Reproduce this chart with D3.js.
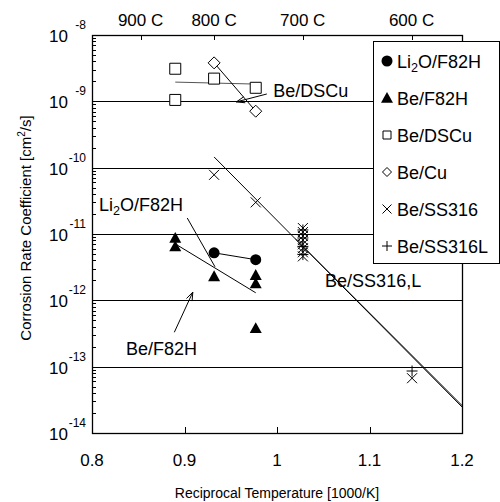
<!DOCTYPE html>
<html>
<head>
<meta charset="utf-8">
<script src="https://cdn.jsdelivr.net/npm/d3@7"></script>
<style>
  body { margin: 0; background: #fff; }
  svg { display: block; font-family: "Liberation Sans", Arial, sans-serif; }
</style>
</head>
<body>
<svg id="chart" width="500" height="502"></svg>
<script>
// ---- data (reciprocal temperature 1000/K, corrosion rate cm2/s) ----
const li2oX = [0.932, 0.977];
const li2oY = [5.2e-12, 4.1e-12];

const beF82hX = [0.890, 0.890, 0.932, 0.977, 0.977, 0.977];
const beF82hY = [8.7e-12, 6.5e-12, 2.3e-12, 2.4e-12, 1.8e-12, 3.8e-13];

const beDscuX = [0.890, 0.890, 0.932, 0.977];
const beDscuY = [3.1e-9, 1.05e-9, 2.2e-9, 1.6e-9];

const beCuX = [0.932, 0.977];
const beCuY = [3.8e-9, 7.1e-10];

const ss316X = [0.932, 0.977, 1.028, 1.028, 1.028, 1.028, 1.028, 1.028, 1.028, 1.028, 1.146];
const ss316Y = [7.8e-11, 3.0e-11, 1.23e-11, 1.07e-11, 9.3e-12, 8.1e-12, 7.0e-12, 6.1e-12, 5.3e-12, 4.6e-12, 6.7e-14];

const ss316LX = [1.028, 1.028, 1.028, 1.028, 1.146];
const ss316LY = [1.15e-11, 8.7e-12, 6.5e-12, 4.9e-12, 8.6e-14];

// fitted lines
const fitF82hX = [0.890, 0.977];
const fitF82hY = [7.1e-12, 1.3e-12];
const fitDscuX = [0.890, 0.977];
const fitDscuY = [1.95e-9, 1.82e-9];
const fitSs316X = [0.932, 1.2];
const fitSs316Y = [1.45e-10, 2.47e-14];
const fitSs316LX = [1.02, 1.2];
const fitSs316LY = [8.4e-12, 2.6e-14];

// axes
const xTicks = [0.8, 0.9, 1.0, 1.1, 1.2];
const xTickLabels = ["0.8", "0.9", "1", "1.1", "1.2"];
const yExponents = [-8, -9, -10, -11, -12, -13, -14];
const topTempsC = [900, 800, 700, 600];

// legend
const legendNames = ["Li2O/F82H", "Be/F82H", "Be/DSCu", "Be/Cu", "Be/SS316", "Be/SS316L"];
const legendSymbols = ["circle", "triangle", "square", "diamond", "times", "plus"];

// ---- layout ----
const W = 500, H = 502;
const margin = { left: 92, top: 35, right: 38, bottom: 69 };

const svg = d3.select("#chart");

const x = d3.scaleLinear().domain([0.8, 1.2]).range([margin.left, W - margin.right]);
const y = d3.scaleLog().domain([1e-14, 1e-8]).range([H - margin.bottom, margin.top]);

// marker path generator
function markerPath(type, r) {
  switch (type) {
    case "triangle": return `M0,${-r}L${r},${r * 0.8}L${-r},${r * 0.8}Z`;
    case "square": return `M${-r},${-r}H${r}V${r}H${-r}Z`;
    case "diamond": return `M0,${-r}L${r},0L0,${r}L${-r},0Z`;
    case "times": return `M${-r},${-r}L${r},${r}M${-r},${r}L${r},${-r}`;
    case "plus": return `M${-r},0H${r}M0,${-r}V${r}`;
    default: return d3.symbol(d3.symbolCircle, Math.PI * r * r)();
  }
}

function markerStyle(sel, type) {
  if (type === "circle" || type === "triangle") {
    sel.attr("fill", "#000").attr("stroke", "none");
  } else if (type === "square" || type === "diamond") {
    sel.attr("fill", "#fff").attr("stroke", "#000").attr("stroke-width", 1);
  } else {
    sel.attr("fill", "none").attr("stroke", "#000").attr("stroke-width", 1);
  }
}

// ---- gridlines at each decade ----
svg.append("g")
  .selectAll("line")
  .data(yExponents.slice(1, -1))
  .enter().append("line")
  .attr("x1", x(0.8)).attr("x2", x(1.2))
  .attr("y1", d => Math.round(y(Math.pow(10, d))) + 0.5)
  .attr("y2", d => Math.round(y(Math.pow(10, d))) + 0.5)
  .attr("stroke", "#000").attr("stroke-width", 1);

// ---- fitted lines ----
const line = d3.line().x(d => x(d[0])).y(d => y(d[1]));
const fits = [
  { xs: fitF82hX, ys: fitF82hY, color: "#000" },
  { xs: fitDscuX, ys: fitDscuY, color: "#555" },
  { xs: fitSs316X, ys: fitSs316Y, color: "#000" },
  { xs: fitSs316LX, ys: fitSs316LY, color: "#000" },
  { xs: li2oX, ys: li2oY, color: "#000" },
  { xs: beCuX, ys: beCuY, color: "#000" }
];
svg.append("g")
  .selectAll("path")
  .data(fits)
  .enter().append("path")
  .attr("d", f => line(d3.zip(f.xs, f.ys)))
  .attr("fill", "none")
  .attr("stroke", f => f.color)
  .attr("stroke-width", 1);

// ---- data markers ----
const series = [
  { xs: li2oX, ys: li2oY, type: "circle", r: 5.5 },
  { xs: beF82hX, ys: beF82hY, type: "triangle", r: 6 },
  { xs: beDscuX, ys: beDscuY, type: "square", r: 5.5 },
  { xs: beCuX, ys: beCuY, type: "diamond", r: 6 },
  { xs: ss316X, ys: ss316Y, type: "times", r: 5 },
  { xs: ss316LX, ys: ss316LY, type: "plus", r: 5.5 }
];
series.forEach(s => {
  svg.append("g")
    .selectAll("path")
    .data(d3.zip(s.xs, s.ys))
    .enter().append("path")
    .attr("transform", d => `translate(${x(d[0])},${y(d[1])})`)
    .attr("d", markerPath(s.type, s.r))
    .call(markerStyle, s.type);
});

// ---- annotations (positions in data units) ----
const annoLabels = [
  { text: "Be/DSCu", x: 0.996, y: 1.16e-9 },
  { text: "Li2O/F82H", x: 0.8076, y: 2.2e-11 },
  { text: "Be/F82H", x: 0.8368, y: 1.5e-13 },
  { text: "Be/SS316,L", x: 1.052, y: 1.59e-12 }
];
const annoArrows = [
  { from: [0.989, 1.29e-9], to: [0.956, 9.8e-10], head: true },
  { from: [0.903, 1.74e-11], to: [0.933, 3.2e-12], head: false },
  { from: [0.889, 3.3e-13], to: [0.909, 1.33e-12], head: true }
];

// text with a subscript "2" for Li2O
function richText(sel, text, size) {
  if (text.startsWith("Li2O")) {
    sel.append("tspan").text("Li");
    sel.append("tspan").text("2").attr("font-size", size * 0.7).attr("dy", 4);
    sel.append("tspan").text(text.slice(3)).attr("dy", -4);
  } else {
    sel.text(text);
  }
}

annoLabels.forEach(a => {
  svg.append("text")
    .attr("x", x(a.x)).attr("y", y(a.y))
    .attr("font-size", 18)
    .call(richText, a.text, 18);
});

annoArrows.forEach(a => {
  const x1 = x(a.from[0]), y1 = y(a.from[1]);
  const x2 = x(a.to[0]), y2 = y(a.to[1]);
  svg.append("line")
    .attr("x1", x1).attr("y1", y1).attr("x2", x2).attr("y2", y2)
    .attr("stroke", "#000").attr("stroke-width", 1);
  if (a.head) {
    const ang = Math.atan2(y1 - y2, x1 - x2);
    const len = 9, spread = 0.35;
    const p1 = [x2 + len * Math.cos(ang + spread), y2 + len * Math.sin(ang + spread)];
    const p2 = [x2 + len * Math.cos(ang - spread), y2 + len * Math.sin(ang - spread)];
    svg.append("path")
      .attr("d", `M${p1[0]},${p1[1]}L${x2},${y2}L${p2[0]},${p2[1]}`)
      .attr("fill", "none").attr("stroke", "#000").attr("stroke-width", 1);
  }
});

// ---- frame ----
svg.append("rect")
  .attr("x", x(0.8) + 0.5).attr("y", y(1e-8) + 0.5)
  .attr("width", x(1.2) - x(0.8)).attr("height", y(1e-14) - y(1e-8))
  .attr("fill", "none").attr("stroke", "#000").attr("stroke-width", 1.3);

// left minor ticks (log 2..9)
const minorTicks = [];
yExponents.slice(1).forEach(e => {
  for (let k = 2; k <= 9; k++) minorTicks.push(k * Math.pow(10, e));
});
svg.append("g")
  .selectAll("line")
  .data(minorTicks)
  .enter().append("line")
  .attr("x1", x(0.8)).attr("x2", x(0.8) + 4)
  .attr("y1", d => Math.round(y(d)) + 0.5).attr("y2", d => Math.round(y(d)) + 0.5)
  .attr("stroke", "#000");

// bottom ticks (pointing inward)
svg.append("g")
  .selectAll("line")
  .data(xTicks.slice(1, -1))
  .enter().append("line")
  .attr("x1", d => Math.round(x(d)) + 0.5).attr("x2", d => Math.round(x(d)) + 0.5)
  .attr("y1", y(1e-14)).attr("y2", y(1e-14) - 6)
  .attr("stroke", "#000");

// bottom tick labels
svg.append("g")
  .selectAll("text")
  .data(xTicks)
  .enter().append("text")
  .attr("x", d => x(d)).attr("y", y(1e-14) + 33)
  .attr("text-anchor", "middle")
  .attr("font-size", 17)
  .text((d, i) => xTickLabels[i]);

// top temperature axis (degC -> 1000/K)
const topX = c => x(1000 / (c + 273));
svg.append("g")
  .selectAll("line")
  .data(topTempsC)
  .enter().append("line")
  .attr("x1", d => Math.round(topX(d)) + 0.5).attr("x2", d => Math.round(topX(d)) + 0.5)
  .attr("y1", y(1e-8)).attr("y2", y(1e-8) + 5)
  .attr("stroke", "#000");
svg.append("g")
  .selectAll("text")
  .data(topTempsC)
  .enter().append("text")
  .attr("x", d => topX(d)).attr("y", y(1e-8) - 9)
  .attr("text-anchor", "middle")
  .attr("font-size", 17)
  .text(d => d + " C");

// left tick labels 10^n
const yLab = svg.append("g")
  .selectAll("g")
  .data(yExponents)
  .enter().append("g");
yLab.append("text")
  .attr("x", 68).attr("y", d => y(Math.pow(10, d)) + 7)
  .attr("text-anchor", "end")
  .attr("font-size", 17)
  .text("10");
yLab.append("text")
  .attr("x", 86).attr("y", d => y(Math.pow(10, d)) - 6)
  .attr("text-anchor", "end")
  .attr("font-size", 12)
  .text(d => d);

// axis titles
svg.append("text")
  .attr("x", x(1.0)).attr("y", H - 4)
  .attr("text-anchor", "middle")
  .attr("font-size", 14)
  .text("Reciprocal Temperature [1000/K]");

const yTitle = svg.append("text")
  .attr("transform", `translate(31,${(y(1e-8) + y(1e-14)) / 2 - 6}) rotate(-90)`)
  .attr("text-anchor", "middle")
  .attr("font-size", 15);
yTitle.append("tspan").text("Corrosion Rate Coefficient [cm");
yTitle.append("tspan").text("2").attr("font-size", 10).attr("dy", -6);
yTitle.append("tspan").text("/s]").attr("dy", 6);

// ---- legend ----
const legend = svg.append("g");
legend.append("rect")
  .attr("x", 373.5).attr("y", 41.5)
  .attr("width", 126).attr("height", 222)
  .attr("fill", "#fff").attr("stroke", "#000").attr("stroke-width", 1);

const legendR = { circle: 5.5, triangle: 6, square: 4, diamond: 4.5, times: 4.5, plus: 5 };
const rows = legend.selectAll("g.row")
  .data(legendNames)
  .enter().append("g")
  .attr("class", "row")
  .attr("transform", (d, i) => `translate(387,${61 + i * 37})`);
rows.append("path")
  .attr("d", (d, i) => markerPath(legendSymbols[i], legendR[legendSymbols[i]]))
  .each(function (d, i) { d3.select(this).call(markerStyle, legendSymbols[i]); });
rows.append("text")
  .attr("x", 10).attr("y", 6.5)
  .attr("font-size", 18)
  .each(function (d) { d3.select(this).call(richText, d, 18); });
</script>
</body>
</html>
